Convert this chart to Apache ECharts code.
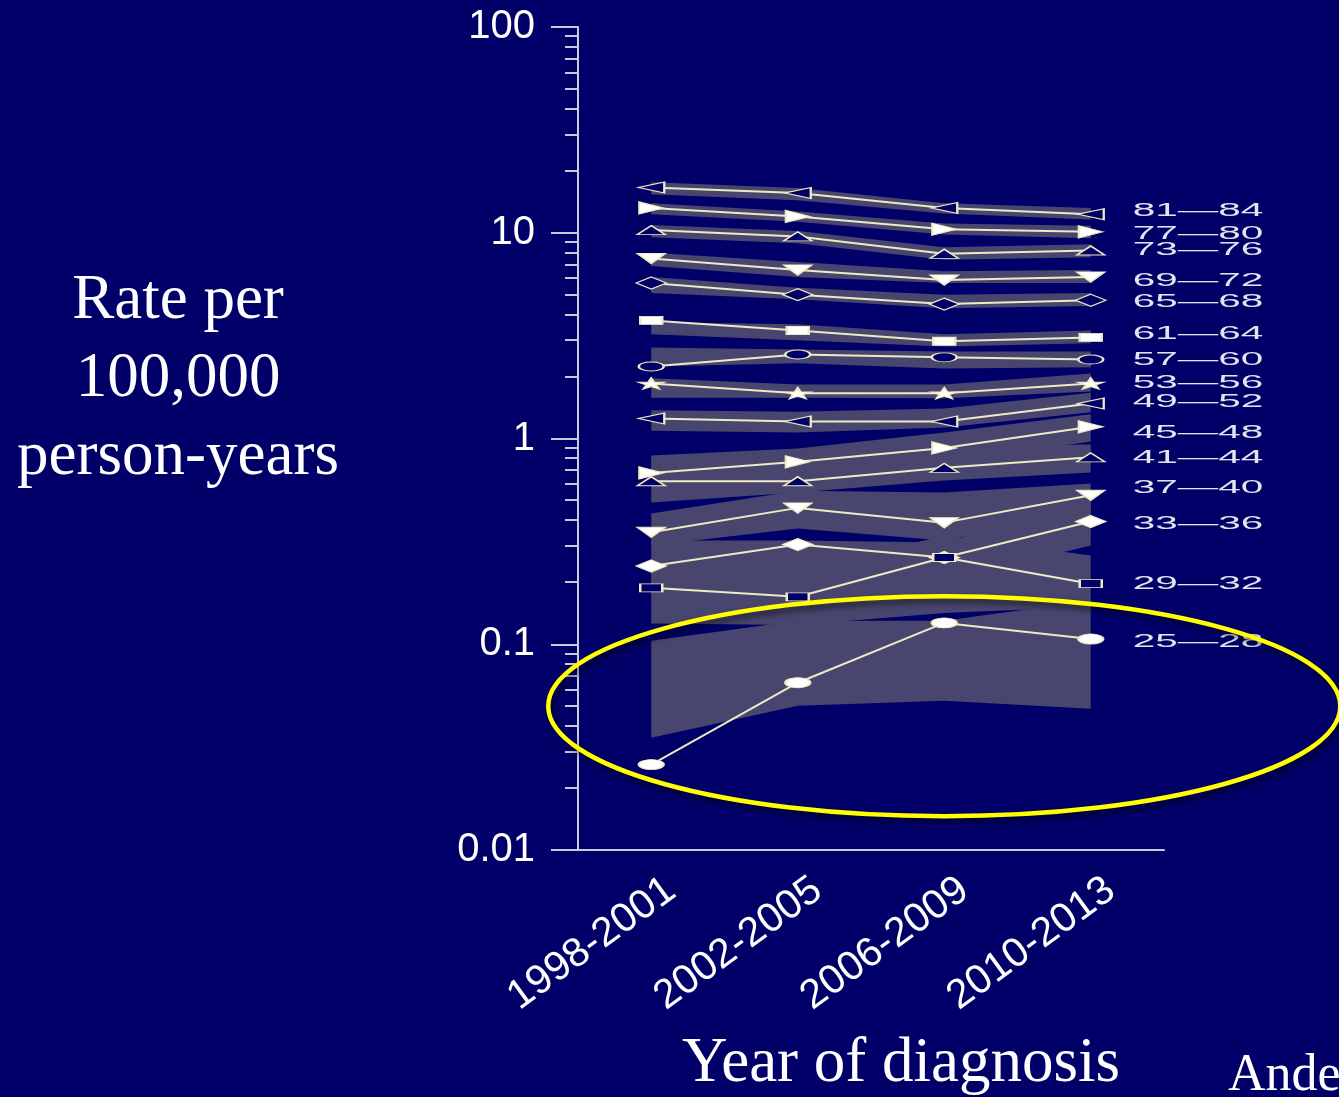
<!DOCTYPE html>
<html>
<head>
<meta charset="utf-8">
<title>Rate per 100,000 person-years by year of diagnosis</title>
<script src="https://cdn.jsdelivr.net/npm/echarts@6/dist/echarts.min.js"></script>
<style>
  html, body { margin: 0; padding: 0; background: #000068; }
  #chart { width: 1339px; height: 1097px; }
</style>
</head>
<body>
<div id="chart"></div>
<script>
// Periods of diagnosis (x axis)
const xCategories = ['1998-2001', '2002-2005', '2006-2009', '2010-2013'];

// Age groups, oldest first
const ageGroups = ['81—84', '77—80', '73—76', '69—72', '65—68', '61—64', '57—60',
  '53—56', '49—52', '45—48', '41—44', '37—40', '33—36', '29—32', '25—28'];

// Observed rate per 100,000 person-years, one row per age group
const rateByGroup = [
  [16.6, 15.6, 13.2, 12.3],
  [13.2, 12.0, 10.4, 10.1],
  [10.3, 9.6, 7.9, 8.2],
  [7.5, 6.6, 5.9, 6.1],
  [5.7, 5.0, 4.5, 4.7],
  [3.75, 3.35, 2.97, 3.1],
  [2.24, 2.56, 2.48, 2.42],
  [1.85, 1.66, 1.66, 1.85],
  [1.25, 1.21, 1.21, 1.48],
  [0.68, 0.77, 0.90, 1.14],
  [0.62, 0.62, 0.72, 0.81],
  [0.35, 0.46, 0.39, 0.53],
  [0.24, 0.305, 0.264, 0.395],
  [0.188, 0.170, 0.264, 0.197],
  [0.026, 0.065, 0.127, 0.106]
];

// Lower and upper bounds of the shaded interval for each age group
const lowerByGroup = [
  [15.4, 14.4, 12.4, 11.6],
  [12.3, 11.3, 9.8, 9.4],
  [9.5, 8.9, 7.4, 7.6],
  [6.9, 6.1, 5.7, 5.7],
  [5.1, 4.75, 4.3, 4.4],
  [3.21, 3.0, 2.8, 2.9],
  [2.24, 2.32, 2.19, 2.22],
  [1.58, 1.58, 1.57, 1.69],
  [1.09, 1.07, 1.13, 1.34],
  [0.59, 0.668, 0.764, 0.967],
  [0.488, 0.546, 0.625, 0.683],
  [0.302, 0.365, 0.319, 0.436],
  [0.172, 0.216, 0.204, 0.302],
  [0.126, 0.124, 0.142, 0.152],
  [0.0351, 0.0502, 0.0531, 0.0486]
];
const upperByGroup = [
  [17.6, 16.5, 13.9, 13.2],
  [13.9, 12.7, 11.1, 10.8],
  [10.9, 10.2, 8.5, 8.8],
  [8.0, 7.2, 6.5, 6.6],
  [6.1, 5.4, 5.0, 5.1],
  [3.67, 3.59, 3.21, 3.35],
  [2.77, 2.71, 2.65, 2.65],
  [1.96, 1.83, 1.83, 2.07],
  [1.37, 1.35, 1.40, 1.67],
  [0.827, 0.894, 1.07, 1.31],
  [0.799, 0.827, 0.925, 0.935],
  [0.432, 0.558, 0.546, 0.604],
  [0.319, 0.319, 0.312, 0.499],
  [0.255, 0.228, 0.337, 0.270],
  [0.104, 0.130, 0.130, 0.163]
];

// Log axis tick labels and minor tick values
const yTickLabels = ['0.01', '0.1', '1', '10', '100'];
const yMinorTicks = [
  0.02, 0.03, 0.04, 0.05, 0.06, 0.07, 0.08, 0.09,
  0.2, 0.3, 0.4, 0.5, 0.6, 0.7, 0.8, 0.9,
  2, 3, 4, 5, 6, 7, 8, 9,
  20, 30, 40, 50, 60, 70, 80, 90
];

// ---- styling ----
const BG = '#000068';
const BAND = '#48466f';
const LINE = '#eeeac4';
const AXIS = '#c9c9dd';
const SANS = '"Liberation Sans", Arial, sans-serif';
const SERIF = '"Liberation Serif", "Times New Roman", serif';

const TRI_LEFT = 'path://M0,5L10,0L10,10Z';
const TRI_RIGHT = 'path://M10,5L0,0L0,10Z';
const TRI_UP = 'path://M5,0L10,10L0,10Z';
const TRI_DOWN = 'path://M0,0L10,0L5,10Z';
const DIAMOND = 'path://M5,0L10,5L5,10L0,5Z';
const RECT = 'path://M0,0L10,0L10,10L0,10Z';
const ELLIPSE = 'path://M0,1C0,0.4477 0.4477,0 1,0C1.5523,0 2,0.4477 2,1C2,1.5523 1.5523,2 1,2C0.4477,2 0,1.5523 0,1Z';
const STAR = 'path://M50,0L61,35L98,35L68,57L79,91L50,70L21,91L32,57L2,35L39,35Z';

// marker per age group: [symbol, [w, h], hollow]
const markerStyle = [
  [TRI_LEFT, [26, 11], true],
  [TRI_RIGHT, [24, 12], false],
  [TRI_UP, [28, 9], true],
  [TRI_DOWN, [28, 10], false],
  [DIAMOND, [30, 12], true],
  [RECT, [22, 8], false],
  [ELLIPSE, [25, 9], true],
  [STAR, [26, 11], false],
  [TRI_LEFT, [26, 11], true],
  [TRI_RIGHT, [24, 12], false],
  [TRI_UP, [28, 9], true],
  [TRI_DOWN, [28, 10], false],
  [DIAMOND, [30, 12], false],
  [RECT, [22, 8], true],
  [ELLIPSE, [25, 10], false]
];
// small vertical nudges so the end labels do not collide
const labelNudge = [-3, 2, 0, 4, 2, -3, 1, 0, -1, 6, 1, -7, 3, 0, 3];

const chart = echarts.init(document.getElementById('chart'), null, { renderer: 'canvas' });

const bandSeries = {
  type: 'custom',
  name: 'interval',
  silent: true,
  z: 1,
  encode: { x: 0, y: 1 },
  data: ageGroups.map((g, i) => [0, upperByGroup[i][0]]),
  renderItem: function (params, api) {
    const i = params.dataIndex;
    const pts = [];
    for (let j = 0; j < xCategories.length; j++) pts.push(api.coord([j, upperByGroup[i][j]]));
    for (let j = xCategories.length - 1; j >= 0; j--) pts.push(api.coord([j, lowerByGroup[i][j]]));
    return { type: 'polygon', shape: { points: pts }, style: { fill: BAND } };
  }
};

const minorTickSeries = {
  type: 'custom',
  name: 'minor ticks',
  silent: true,
  z: 2,
  encode: { x: 0, y: 1 },
  data: yMinorTicks.map(v => [0, v]),
  renderItem: function (params, api) {
    const y = Math.round(api.coord([0, api.value(1)])[1]);
    const x0 = params.coordSys.x;
    return {
      type: 'line',
      shape: { x1: x0 - 13, y1: y, x2: x0, y2: y },
      style: { stroke: AXIS, lineWidth: 2 }
    };
  }
};

const lineSeries = ageGroups.map((g, i) => ({
  type: 'line',
  name: g,
  data: rateByGroup[i],
  z: 5,
  silent: true,
  symbol: markerStyle[i][0],
  symbolSize: markerStyle[i][1],
  symbolKeepAspect: false,
  showAllSymbol: true,
  lineStyle: { color: LINE, width: 2 },
  itemStyle: {
    color: markerStyle[i][2] ? BG : '#ffffff',
    borderColor: LINE,
    borderWidth: 1.5
  }
}));

chart.setOption({
  backgroundColor: BG,
  animation: false,
  grid: { left: 578, right: 175, top: 27, bottom: 247, containLabel: false },
  xAxis: {
    type: 'category',
    data: xCategories,
    boundaryGap: true,
    axisLine: { onZero: false, lineStyle: { color: AXIS, width: 2 } },
    axisTick: { alignWithLabel: true, length: 12, lineStyle: { color: AXIS, width: 2 } },
    axisLabel: { show: false },
    splitLine: { show: false }
  },
  yAxis: {
    type: 'log',
    logBase: 10,
    min: 0.01,
    max: 100,
    axisLine: { show: true, onZero: false, lineStyle: { color: AXIS, width: 2 } },
    axisTick: { show: true, length: 27, lineStyle: { color: AXIS, width: 2 } },
    axisLabel: {
      color: '#ffffff',
      fontFamily: SANS,
      fontSize: 40,
      margin: 43,
      showMinLabel: true,
      showMaxLabel: true,
      formatter: v => yTickLabels[Math.round(Math.log10(v)) + 2]
    },
    splitLine: { show: false },
    minorTick: { show: false }
  },
  series: [bandSeries, minorTickSeries].concat(lineSeries)
});

// ---- annotations placed through the chart's own scales ----
const toPx = (j, v) => chart.convertToPixel({ xAxisIndex: 0, yAxisIndex: 0 }, [xCategories[j], v]);
const elements = [];

// age group labels at the right end of every line
ageGroups.forEach((g, i) => {
  const p = toPx(3, rateByGroup[i][3]);
  elements.push({
    type: 'text',
    x: p[0] + 42,
    y: p[1] + labelNudge[i],
    scaleX: 2.25,
    z: 10,
    style: {
      text: g,
      font: '18px ' + SANS,
      fill: '#e4e4ee',
      align: 'left',
      verticalAlign: 'middle'
    }
  });
});

// slanted period labels under the x axis
const xLabelAngle = 36 * Math.PI / 180;
xCategories.forEach((c, j) => {
  const p = toPx(j, 0.01);
  elements.push({
    type: 'text',
    x: p[0] + 20,
    y: p[1] + 36,
    rotation: xLabelAngle,
    z: 10,
    style: {
      text: c,
      font: '41px ' + SANS,
      fill: '#ffffff',
      align: 'right',
      verticalAlign: 'middle'
    }
  });
});

// axis titles
elements.push({
  type: 'text',
  x: 178,
  y: 379,
  z: 10,
  style: {
    text: 'Rate per\n100,000\nperson-years',
    font: '63px ' + SERIF,
    lineHeight: 78,
    fill: '#ffffff',
    align: 'center',
    verticalAlign: 'middle'
  }
});
elements.push({
  type: 'text',
  x: 682,
  y: 1064,
  z: 10,
  style: {
    text: 'Year of diagnosis',
    font: '63px ' + SERIF,
    fill: '#ffffff',
    align: 'left',
    verticalAlign: 'middle'
  }
});
elements.push({
  type: 'text',
  x: 1228,
  y: 1076,
  z: 10,
  style: {
    text: 'Ande',
    font: '52px ' + SERIF,
    fill: '#ffffff',
    align: 'left',
    verticalAlign: 'middle'
  }
});

// highlight ring around the youngest age group
const ringCenter = toPx(2, 0.05);
elements.push({
  type: 'ellipse',
  z: 20,
  shape: { cx: ringCenter[0], cy: ringCenter[1], rx: 396, ry: 110 },
  style: {
    fill: 'none',
    stroke: '#ffff00',
    lineWidth: 4.5,
    shadowColor: 'rgba(0,0,0,0.6)',
    shadowBlur: 6,
    shadowOffsetX: 3,
    shadowOffsetY: 4
  }
});

chart.setOption({ graphic: { elements: elements } });
</script>
</body>
</html>
